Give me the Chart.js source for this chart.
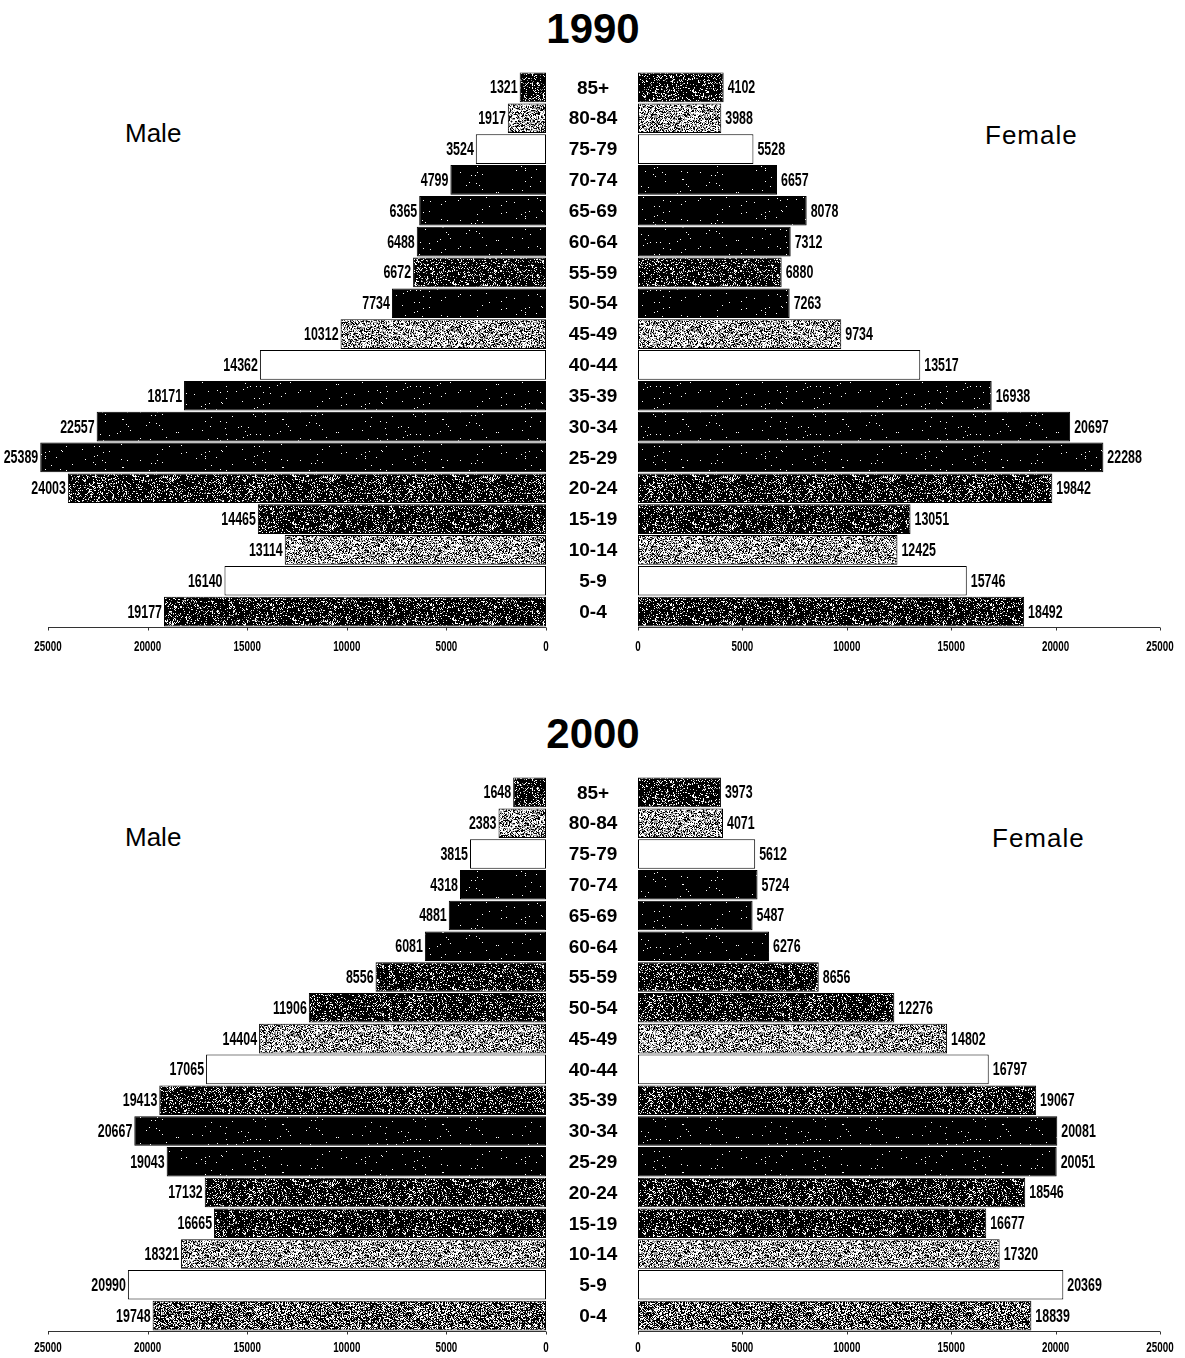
<!DOCTYPE html>
<html>
<head>
<meta charset="utf-8">
<title>Population pyramids 1990 and 2000</title>
<script src="https://cdn.jsdelivr.net/npm/chart.js@4/dist/chart.umd.min.js"></script>
<style>
  html, body { margin: 0; padding: 0; background: #fff; }
  #page { position: relative; width: 1185px; height: 1358px; overflow: hidden;
          font-family: "Liberation Sans", Arial, sans-serif; color: #000; }
  canvas { position: absolute; }
  .year { position: absolute; width: 300px; text-align: center; font-weight: bold;
          font-size: 42px; line-height: 1; }
  .sex { position: absolute; font-size: 26px; line-height: 1; white-space: nowrap; }
</style>
</head>
<body>
<div id="page">
  <div class="year" style="left:443px; top:8px;">1990</div>
  <div class="sex" style="left:125px; top:120px;">Male</div>
  <div class="sex" style="left:985px; top:122px; letter-spacing:1px;">Female</div>
  <canvas id="m1990" width="560" height="610" style="left:0; top:60px;"></canvas>
  <canvas id="f1990" width="625" height="610" style="left:560px; top:60px;"></canvas>

  <div class="year" style="left:443px; top:713px;">2000</div>
  <div class="sex" style="left:125px; top:824px;">Male</div>
  <div class="sex" style="left:992px; top:825px; letter-spacing:1px;">Female</div>
  <canvas id="m2000" width="560" height="593" style="left:0; top:765px;"></canvas>
  <canvas id="f2000" width="625" height="593" style="left:560px; top:765px;"></canvas>
</div>

<script>
// Age groups, oldest at the top
const ageGroups = ['85+', '80-84', '75-79', '70-74', '65-69', '60-64', '55-59', '50-54', '45-49',
                   '40-44', '35-39', '30-34', '25-29', '20-24', '15-19', '10-14', '5-9', '0-4'];

// Population by age group
const male1990   = [1321, 1917, 3524, 4799, 6365, 6488, 6672, 7734, 10312,
                    14362, 18171, 22557, 25389, 24003, 14465, 13114, 16140, 19177];
const female1990 = [4102, 3988, 5528, 6657, 8078, 7312, 6880, 7263, 9734,
                    13517, 16938, 20697, 22288, 19842, 13051, 12425, 15746, 18492];
const male2000   = [1648, 2383, 3815, 4318, 4881, 6081, 8556, 11906, 14404,
                    17065, 19413, 20667, 19043, 17132, 16665, 18321, 20990, 19748];
const female2000 = [3973, 4071, 5612, 5724, 5487, 6276, 8656, 12276, 14802,
                    16797, 19067, 20081, 20051, 18546, 16677, 17320, 20369, 18839];

// Axis ticks
const tickValues = [0, 5000, 10000, 15000, 20000, 25000];
const axisMax = 25000;

// Bar shading per age group (printed halftone look)
const shade1990 = ['dark', 'light', 'white', 'black', 'black', 'black', 'dark', 'black', 'light',
                   'white', 'black', 'black', 'black', 'dark', 'dark', 'light', 'white', 'dark'];
const shade2000 = ['dark', 'light', 'white', 'black', 'black', 'black', 'dark', 'dark', 'light',
                   'white', 'dark', 'black', 'black', 'dark', 'dark', 'light', 'white', 'medium'];

// ---- halftone textures ----
// share of white grains and of grey grains for each shade
const grainMix = {
  black:  { white: 0.012, grey: 0.0 },
  dark:   { white: 0.13,  grey: 0.06 },
  medium: { white: 0.30,  grey: 0.15 },
  light:  { white: 0.42,  grey: 0.30 }
};
function makeTexture(kind, seed) {
  if (kind === 'white') return '#ffffff';
  const w = 160, h = 48;
  const tile = document.createElement('canvas');
  tile.width = w; tile.height = h;
  const g = tile.getContext('2d');
  const img = g.createImageData(w, h);
  let s = seed >>> 0;
  const next = () => (s = (Math.imul(s, 1664525) + 1013904223) >>> 0) / 4294967296;
  const mix = grainMix[kind];
  for (let i = 0; i < w * h; i++) {
    const r = next();
    const v = r < mix.white ? 255 : (r < mix.white + mix.grey ? 150 : 0);
    img.data[i * 4] = v; img.data[i * 4 + 1] = v; img.data[i * 4 + 2] = v; img.data[i * 4 + 3] = 255;
  }
  g.putImageData(img, 0, 0);
  return g.createPattern(tile, 'repeat');
}
const textures = {
  black: makeTexture('black', 11),
  dark: makeTexture('dark', 23),
  medium: makeTexture('medium', 37),
  light: makeTexture('light', 41),
  white: makeTexture('white', 0)
};

const TICK_FONT = 'bold 14px "Liberation Sans", Arial, sans-serif';
const VALUE_FONT = 'bold 18px "Liberation Sans", Arial, sans-serif';
const AGE_FONT = 'bold 19px "Liberation Sans", Arial, sans-serif';

// Draw horizontally condensed text
function squeezedText(ctx, text, x, y, align, font, sx) {
  ctx.save();
  ctx.translate(x, y);
  ctx.scale(sx, 1);
  ctx.font = font;
  ctx.textAlign = align;
  ctx.textBaseline = 'middle';
  ctx.fillStyle = '#000';
  ctx.fillText(text, 0, 0);
  ctx.restore();
}

// Axis line, tick labels, value labels and age labels
const pyramidDecor = {
  id: 'pyramidDecor',
  afterDatasetsDraw(chart, args, opts) {
    const ctx = chart.ctx;
    const xs = chart.scales.x, ys = chart.scales.y;
    const area = chart.chartArea;
    const male = opts.side === 'male';

    // axis line and tick marks
    ctx.save();
    ctx.strokeStyle = '#333';
    ctx.lineWidth = 1;
    ctx.beginPath();
    const yAxis = Math.round(area.bottom) + 0.5;
    ctx.moveTo(xs.getPixelForValue(0), yAxis);
    ctx.lineTo(xs.getPixelForValue(axisMax), yAxis);
    tickValues.forEach(v => {
      const px = Math.round(xs.getPixelForValue(v)) + 0.5;
      ctx.moveTo(px, yAxis);
      ctx.lineTo(px, yAxis + 3);
    });
    ctx.stroke();
    ctx.restore();

    // tick labels
    tickValues.forEach(v => {
      squeezedText(ctx, String(v), xs.getPixelForValue(v), area.bottom + opts.tickGap,
                   'center', TICK_FONT, 0.7);
    });

    // value labels at the bar ends
    const meta = chart.getDatasetMeta(0);
    const values = chart.data.datasets[0].data;
    meta.data.forEach((bar, i) => {
      const x = male ? bar.x - 2 : bar.x + 4;
      squeezedText(ctx, String(values[i]), x, bar.y + 1, male ? 'right' : 'left', VALUE_FONT, 0.69);
    });

    // age-group labels in the centre column
    if (opts.ageX !== undefined) {
      ctx.save();
      ctx.font = AGE_FONT;
      ctx.textAlign = 'center';
      ctx.textBaseline = 'middle';
      ctx.fillStyle = '#000';
      chart.data.labels.forEach((lab, i) => {
        ctx.fillText(lab, opts.ageX, ys.getPixelForValue(i) + 1);
      });
      ctx.restore();
    }
  }
};

function pyramidChart(id, values, shades, side, pad, tickGap) {
  const male = side === 'male';
  const decor = { side: side, tickGap: tickGap };
  if (!male) decor.ageX = 33;
  return new Chart(document.getElementById(id), {
    type: 'bar',
    data: {
      labels: ageGroups,
      datasets: [{
        data: values,
        backgroundColor: shades.map(k => textures[k]),
        borderColor: '#000',
        borderWidth: 1,
        borderSkipped: false,
        barPercentage: 0.96,
        categoryPercentage: 1,
        clip: false
      }]
    },
    options: {
      indexAxis: 'y',
      responsive: false,
      maintainAspectRatio: false,
      animation: false,
      events: [],
      layout: { padding: pad },
      plugins: {
        legend: { display: false },
        tooltip: { enabled: false },
        pyramidDecor: decor
      },
      scales: {
        x: { display: false, min: 0, max: axisMax, reverse: male },
        y: { display: false }
      }
    },
    plugins: [pyramidDecor]
  });
}

pyramidChart('m1990', male1990, shade1990, 'male',
             { left: 48, right: 14, top: 12, bottom: 43 }, 20);
pyramidChart('f1990', female1990, shade1990, 'female',
             { left: 78, right: 25, top: 12, bottom: 43 }, 20);
pyramidChart('m2000', male2000, shade2000, 'male',
             { left: 48, right: 14, top: 12, bottom: 27 }, 17);
pyramidChart('f2000', female2000, shade2000, 'female',
             { left: 78, right: 25, top: 12, bottom: 27 }, 17);
</script>
</body>
</html>
